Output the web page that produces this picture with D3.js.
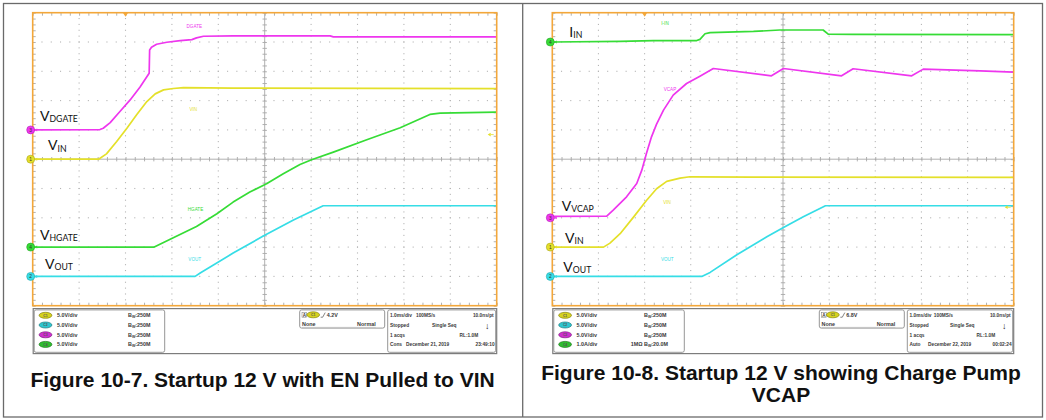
<!DOCTYPE html>
<html><head><meta charset="utf-8">
<script src="https://cdnjs.cloudflare.com/ajax/libs/d3/7.8.5/d3.min.js"></script>
<style>body{margin:0;background:#fff}svg{display:block}</style>
</head><body>
<svg id="c" width="1046" height="420"></svg>
<script>
// ---------------- DATA ----------------
const timeDomain = [-2, 8];      // ms, 1.0 ms/div, trigger at t=0
const divDomain  = [-5, 5];      // vertical divisions
// Figure 10-7 traces: [time ms, value V]
const fig7_VIN   = [[-2,0],[-0.58,0],[-0.41,0.91],[-0.19,3.01],[0.03,5.29],[0.24,7.57],[0.46,9.84],[0.64,11.15],[0.82,11.83],[1.03,12.06],[1.25,12.23],[2.32,12.12],[8,12.06]];
const fig7_VOUT  = [[-2,0],[1.50,0],[1.61,0.57],[2.32,3.98],[2.97,6.88],[3.62,9.61],[4.26,12.06],[8,12.06]];
const fig7_DGATE = [[-2,0],[-0.55,0.06],[-0.48,0.28],[-0.33,1.25],[-0.12,3.13],[0.10,5.12],[0.31,7.28],[0.51,9.67],[0.52,13.65],[0.56,14.11],[0.67,14.62],[0.89,14.96],[1.18,15.24],[1.43,15.41],[1.53,15.70],[1.68,15.98],[2.32,16.04],[4.41,16.04],[4.48,15.87],[8,15.87]];
const fig7_HGATE = [[-2,0],[0.62,0],[1.03,1.59],[1.53,3.53],[1.97,5.69],[2.32,7.68],[2.68,9.39],[3.04,10.81],[3.40,12.51],[3.76,14.11],[4.01,14.90],[4.48,16.21],[5.20,18.32],[5.92,20.36],[6.56,22.64],[6.78,22.87],[8,23.04]];
// Figure 10-8 traces
const fig8_VIN   = [[-2,0],[-0.89,0],[-0.75,0.68],[-0.53,2.28],[-0.24,5.12],[0.04,7.96],[0.26,9.95],[0.48,11.21],[0.77,11.77],[0.98,12.00],[2.36,11.94],[8,11.89]];
const fig8_VOUT  = [[-2,0],[1.24,0],[1.42,0.68],[2.00,3.70],[2.65,6.77],[3.01,8.36],[3.44,10.18],[3.92,12.06],[8,12.06]];
const fig8_VCAP  = [[-2,0.25],[-0.82,0.3],[-0.68,1.31],[-0.39,3.58],[-0.17,5.86],[-0.06,8.13],[0.04,10.98],[0.15,13.82],[0.26,15.98],[0.41,18.37],[0.62,20.93],[0.91,22.92],[1.20,24.17],[1.49,25.48],[2.75,24.23],[3.01,25.48],[4.27,24.23],[4.52,25.43],[5.79,24.23],[6.04,25.37],[7.27,25.08],[8,24.86]];
const fig8_IIN   = [[-2,0],[-0.53,0.02],[0.19,0.05],[1.13,0.05],[1.20,0.09],[1.31,0.28],[1.42,0.32],[2.36,0.36],[2.93,0.41],[3.87,0.41],[3.98,0.27],[4.52,0.26],[8,0.25]];
// channel settings: [channel, scale per div, ground offset div]
const fig7_channels = [["1",5,0],["2",5,-4],["3",5,1],["4",5,-3]];
const fig8_channels = [["1",5,-3],["2",5,-4],["3",5,-2],["4",1,4]];
const fig7_trigger = 4.2, fig8_trigger = 6.8;   // V on channel 1
// label texts
const fig7_names = ["VIN","VOUT","DGATE","HGATE"];
const fig8_names = ["VIN","VOUT","VCAP","I-IN"];
const fig7_big = [["V","IN"],["V","OUT"],["V","DGATE"],["V","HGATE"]];
const fig8_big = [["V","IN"],["V","OUT"],["V","VCAP"],["I","IN"]];
const fig7_chRows = [["C1","5.0V/div","","250M"],["C2","5.0V/div","","250M"],["C3","5.0V/div","","250M"],["C4","5.0V/div","","250M"]];
const fig8_chRows = [["C1","5.0V/div","","250M"],["C2","5.0V/div","","250M"],["C3","5.0V/div","","250M"],["C4","1.0A/div","1MΩ","20.0M"]];
const fig7_trigText = ["A","C1","4.2V","None","Normal"];
const fig8_trigText = ["A","C1","6.8V","None","Normal"];
const fig7_tb = [["1.0ms/div","100MS/s","10.0ns/pt"],["Stopped","Single Seq","↓"],["1 acqs","","RL:1.0M"],["Cons","December 21, 2019","23:49:10"]];
const fig8_tb = [["1.0ms/div","100MS/s","10.0ns/pt"],["Stopped","Single Seq","↓"],["1 acqs","","RL:1.0M"],["Auto","December 22, 2019","00:02:24"]];
const fig7_caption = ["Figure 10-7. Startup 12 V with EN Pulled to VIN"];
const fig8_caption = ["Figure 10-8. Startup 12 V showing Charge Pump","VCAP"];

// ---------------- STYLE / LAYOUT ----------------
const chColor = {"1":"#e4e02a","2":"#36dde6","3":"#ee36ee","4":"#36dc36"};
const pillColor = {"1":"#d6d21e","2":"#2ec6cf","3":"#cf2fcf","4":"#2fbf2f"};
const orange = "#f3a73a";
const svg = d3.select("#c");
const defs = svg.append("defs");

// outer frames
const fr = svg.append("g").attr("stroke","#6a6a6a").attr("stroke-width",1.3).attr("fill","none");
fr.append("rect").attr("x",3.5).attr("y",3.5).attr("width",1039).attr("height",413.5);
fr.append("line").attr("x1",522.7).attr("x2",522.7).attr("y1",3.5).attr("y2",417);

function drawPanel(P) {
  const g = svg.append("g");
  const x = d3.scaleLinear().domain(timeDomain).range([P.left, P.right]);
  const y = d3.scaleLinear().domain(divDomain).range([P.bottom, P.top]);
  const minorT = d3.range(timeDomain[0], timeDomain[1] + 1e-6, 0.2);
  const minorD = d3.range(divDomain[0], divDomain[1] + 1e-6, 0.2);
  const centerT = (timeDomain[0] + timeDomain[1]) / 2;

  // dotted major grid
  const dots = g.append("g").attr("fill","#b4b4b4");
  d3.range(timeDomain[0]+1, timeDomain[1]).filter(t => t !== centerT).forEach(t => {
    minorD.slice(1,-1).forEach(d => dots.append("rect").attr("x", x(t)-0.55).attr("y", y(d)-0.55).attr("width",1.1).attr("height",1.1));
  });
  d3.range(divDomain[0]+1, divDomain[1]).filter(d => d !== 0).forEach(d => {
    minorT.slice(1,-1).forEach(t => dots.append("rect").attr("x", x(t)-0.55).attr("y", y(d)-0.55).attr("width",1.1).attr("height",1.1));
  });
  // center lines with ticks
  const cl = g.append("g").attr("stroke","#a8a8a8").attr("stroke-width",0.9);
  cl.append("line").attr("x1",P.left).attr("x2",P.right).attr("y1",y(0)).attr("y2",y(0));
  cl.append("line").attr("x1",x(centerT)).attr("x2",x(centerT)).attr("y1",P.top).attr("y2",P.bottom);
  const tickStyle = s => { s.select(".domain").remove(); s.selectAll("line").attr("stroke","#a8a8a8").attr("stroke-width",0.9); };
  g.append("g").attr("transform",`translate(0,${y(0)-2.2})`).call(d3.axisBottom(x).tickValues(minorT).tickSize(4.4).tickFormat("")).call(tickStyle);
  g.append("g").attr("transform",`translate(${x(centerT)-2.2},0)`).call(d3.axisRight(y).tickValues(minorD).tickSize(4.4).tickFormat("")).call(tickStyle);
  // edge ticks (inward)
  g.append("g").attr("transform",`translate(0,${P.top})`).call(d3.axisBottom(x).tickValues(minorT).tickSize(3).tickFormat("")).call(tickStyle);
  g.append("g").attr("transform",`translate(0,${P.bottom})`).call(d3.axisTop(x).tickValues(minorT).tickSize(3).tickFormat("")).call(tickStyle);
  g.append("g").attr("transform",`translate(${P.left},0)`).call(d3.axisRight(y).tickValues(minorD).tickSize(3).tickFormat("")).call(tickStyle);
  g.append("g").attr("transform",`translate(${P.right},0)`).call(d3.axisLeft(y).tickValues(minorD).tickSize(3).tickFormat("")).call(tickStyle);

  // traces
  const clipId = "clip" + P.id;
  defs.append("clipPath").attr("id", clipId).append("rect")
    .attr("x",P.left).attr("y",P.top).attr("width",P.right-P.left).attr("height",P.bottom-P.top);
  const tg = g.append("g").attr("clip-path",`url(#${clipId})`);
  P.channels.forEach(([ch, per, off], i) => {
    const line = d3.line().x(d => x(d[0])).y(d => y(off + d[1]/per));
    tg.append("path").datum(P.traces[i]).attr("d", line)
      .attr("fill","none").attr("stroke", chColor[ch]).attr("stroke-width",1.7).attr("stroke-linejoin","round");
  });

  // frame
  g.append("rect").attr("x",P.left).attr("y",P.top).attr("width",P.right-P.left).attr("height",P.bottom-P.top)
    .attr("fill","none").attr("stroke",orange).attr("stroke-width",1.6);
  // trigger position marker
  g.append("path").attr("d",`M${x(0)-2.6},${P.top}L${x(0)+2.6},${P.top}L${x(0)},${P.top+4}Z`).attr("fill",orange);
  // trigger level marker (channel 1)
  const c1 = P.channels[0];
  const ty = y(c1[2] + P.trigger / c1[1]);
  g.append("path").attr("d",`M${P.right-9},${ty}L${P.right-6},${ty-1.8}L${P.right-6},${ty+1.8}Z`).attr("fill",chColor["1"]);
  g.append("line").attr("x1",P.right-6).attr("x2",P.right-3).attr("y1",ty).attr("y2",ty).attr("stroke",chColor["1"]).attr("stroke-width",0.8);

  // ground markers
  P.channels.forEach(([ch, per, off]) => {
    const gy = y(off), gx = P.left - 2;
    g.append("path").attr("d",`M${gx+3.5},${gy}L${gx+6.5},${gy-1.5}L${gx+6.5},${gy+1.5}Z`).attr("fill",chColor[ch]);
    g.append("circle").attr("cx",gx).attr("cy",gy).attr("r",4).attr("fill",chColor[ch])
      .attr("stroke",d3.color(chColor[ch]).darker(0.8)).attr("stroke-width",0.6);
    g.append("text").attr("x",gx).attr("y",gy+1.7).attr("text-anchor","middle")
      .attr("font-family","Liberation Sans, Arial").attr("font-size",4.8).attr("fill","#333").text(ch);
  });

  // small scope labels
  P.names.forEach((n, i) => {
    g.append("text").attr("x",P.small[i][0]).attr("y",P.small[i][1]).attr("text-anchor","middle")
      .attr("font-family","Liberation Sans, Arial").attr("font-size",4.6).attr("fill",chColor[P.channels[i][0]]).text(n);
  });
  // big labels
  P.big.forEach((b, i) => {
    const t = g.append("text").attr("x",P.bigPos[i][0]).attr("y",P.bigPos[i][1])
      .attr("font-family","Lato, Open Sans, sans-serif").attr("fill","#111");
    t.append("tspan").attr("font-size",14).text(b[0]);
    t.append("tspan").attr("font-size",8.7).attr("dy",1.2).text(b[1]);
  });

  // status strip
  const sg = g.append("g").attr("font-family","Liberation Sans, Arial").attr("font-weight","bold").attr("font-size",5.4).attr("fill","#3a3a3a");
  const sx = P.left, sTop = 308.6, sBot = 353.6;
  sg.append("rect").attr("x",sx+0.5).attr("y",sTop).attr("width",P.right-sx-0.5).attr("height",sBot-sTop)
    .attr("fill","#fff").attr("stroke","#7c7c7c").attr("stroke-width",1.2);
  const box = (x0, x1, y0, y1) => sg.append("rect").attr("x",x0).attr("y",y0).attr("width",x1-x0).attr("height",y1-y0)
    .attr("rx",2).attr("fill","#fff").attr("stroke","#8a8a8a").attr("stroke-width",0.9);
  box(sx+1.5, sx+132, sTop+1.3, sBot-1.3);
  box(sx+267, sx+352, sTop+1.3, sTop+19.5);
  box(sx+355, P.right-1, sTop+1.3, sBot-1.3);
  const rowsY = [317.3, 327, 336.8, 346.4];
  const pill = (cx, cy, ch) => {
    sg.append("ellipse").attr("cx",cx).attr("cy",cy).attr("rx",6.4).attr("ry",3).attr("fill",pillColor[ch])
      .attr("stroke",d3.color(pillColor[ch]).darker(1.3)).attr("stroke-width",0.7);
    sg.append("text").attr("x",cx).attr("y",cy+1.2).attr("text-anchor","middle").attr("font-size",3.4).attr("fill","#555").text("C"+ch);
  };
  P.chRows.forEach((r, i) => {
    const cy = rowsY[i] - 2;
    pill(sx+12.8, cy, r[0].slice(1));
    sg.append("text").attr("x",sx+24.3).attr("y",rowsY[i]).text(r[1]);
    if (r[2]) sg.append("text").attr("x",sx+P.bwX-1.5).attr("y",rowsY[i]).attr("text-anchor","end").text(r[2]);
    const t = sg.append("text").attr("x",sx+P.bwX).attr("y",rowsY[i]);
    t.append("tspan").text("B");
    t.append("tspan").attr("font-size",3.6).attr("dy",1).text("W");
    t.append("tspan").attr("dy",-1).text(":" + r[3]);
  });
  // trigger box
  const tr = P.trigText;
  sg.append("rect").attr("x",sx+269.3).attr("y",312.6).attr("width",4.6).attr("height",4.6).attr("fill","#fff").attr("stroke","#777").attr("stroke-width",0.5);
  sg.append("text").attr("x",sx+271.6).attr("y",316.6).attr("text-anchor","middle").attr("font-size",4.6).text(tr[0]);
  pill(sx+280.5, 314.8, tr[1].slice(1));
  sg.append("path").attr("d",`M${sx+288},${317.2}L${sx+290},${317.2}L${sx+292.5},${312.6}`).attr("fill","none").attr("stroke","#333").attr("stroke-width",0.6);
  sg.append("text").attr("x",sx+294).attr("y",317.2).text(tr[2]);
  sg.append("text").attr("x",sx+269.3).attr("y",326.3).text(tr[3]);
  sg.append("text").attr("x",sx+343).attr("y",326.3).attr("text-anchor","end").text(tr[4]);
  sg.append("line").attr("x1",sx+269.3).attr("x2",sx+343).attr("y1",327.3).attr("y2",327.3).attr("stroke","#999").attr("stroke-width",0.3);
  // timebase box
  const tb = P.tb, R = P.right;
  const tbg = sg.append("g").attr("font-size",4.8);
  tbg.append("text").attr("x",sx+357.3).attr("y",rowsY[0]).text(tb[0][0]);
  tbg.append("text").attr("x",sx+P.tbX[0]).attr("y",rowsY[0]).text(tb[0][1]);
  tbg.append("text").attr("x",R-3).attr("y",rowsY[0]).attr("text-anchor","end").text(tb[0][2]);
  tbg.append("text").attr("x",sx+357.3).attr("y",rowsY[1]).text(tb[1][0]);
  tbg.append("text").attr("x",sx+P.tbX[1]).attr("y",rowsY[1]).text(tb[1][1]);
  tbg.append("text").attr("x",R-9.5).attr("y",rowsY[1]+1.5).attr("text-anchor","middle").attr("font-size",9).attr("fill","#222").text(tb[1][2]);
  tbg.append("text").attr("x",sx+357.3).attr("y",rowsY[2]).text(tb[2][0]);
  tbg.append("text").attr("x",R-18.5).attr("y",rowsY[2]).attr("text-anchor","end").text(tb[2][2]);
  tbg.append("text").attr("x",sx+357.3).attr("y",rowsY[3]).text(tb[3][0]);
  tbg.append("text").attr("x",sx+P.tbX[2]).attr("y",rowsY[3]).text(tb[3][1]);
  tbg.append("text").attr("x",R-2).attr("y",rowsY[3]).attr("text-anchor","end").text(tb[3][2]);

  // caption
  P.caption.forEach((c, i) => {
    g.append("text").attr("x",P.capX).attr("y",P.capY[i]).attr("text-anchor","middle")
      .attr("font-family","Liberation Sans, Arial").attr("font-weight","bold").attr("font-size",21).attr("fill","#111").text(c);
  });
}

drawPanel({
  id: 1, left: 32.7, right: 496.7, top: 12.7, bottom: 305.7,
  channels: fig7_channels, traces: [fig7_VIN, fig7_VOUT, fig7_DGATE, fig7_HGATE],
  trigger: fig7_trigger, names: fig7_names, big: fig7_big,
  small: [[193.3,111],[194.7,261],[194.3,28.3],[195.5,211]],
  bigPos: [[48,150.3],[45,268.5],[40,121],[40,239.5]],
  chRows: fig7_chRows, bwX: 95.3, trigText: fig7_trigText, tb: fig7_tb, tbX: [383.3, 399.3, 373.3],
  caption: fig7_caption, capX: 262.6, capY: [386.5]
});
drawPanel({
  id: 2, left: 552.3, right: 1013.7, top: 12.7, bottom: 305.7,
  channels: fig8_channels, traces: [fig8_VIN, fig8_VOUT, fig8_VCAP, fig8_IIN],
  trigger: fig8_trigger, names: fig8_names, big: fig8_big,
  small: [[667,204.3],[667.3,261],[670,91],[665,25]],
  bigPos: [[565,243],[563.3,272],[561.7,211],[569.3,37]],
  chRows: fig8_chRows, bwX: 91.7, trigText: fig8_trigText, tb: fig8_tb, tbX: [381.5, 397.7, 375.7],
  caption: fig8_caption, capX: 781, capY: [380.4, 402.4]
});
</script>
</body></html>
